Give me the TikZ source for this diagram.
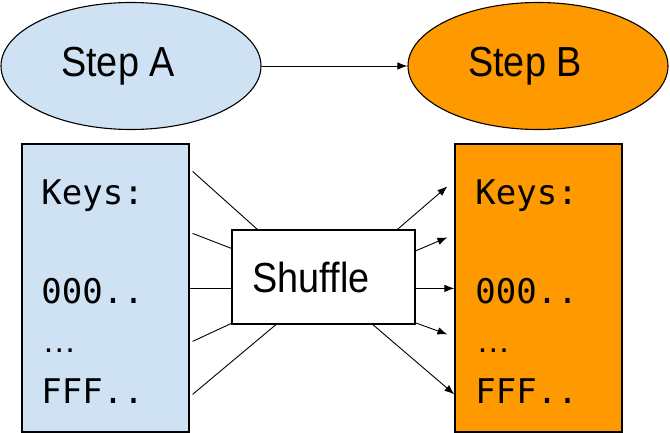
\documentclass[tikz,border=0pt]{standalone}
\usepackage{fontspec}
\setmainfont{Liberation Sans}
\newfontfamily\stepfont{Liberation Sans}[FakeStretch=0.9]
\newfontfamily\keysfont{DejaVu Sans Mono}
\usetikzlibrary{arrows.meta,shapes.geometric}
\definecolor{stepblue}{RGB}{207,226,243}
\definecolor{steporange}{RGB}{255,153,0}
\tikzset{
    stepnode/.style={draw,ellipse,line width=1.1pt,minimum width=260pt,minimum height=127pt,
      font=\stepfont\fontsize{42}{42}\selectfont},
    keybox/.style={draw,line width=1.2pt,minimum width=167pt,minimum height=288pt},
    keytext/.style={anchor=base west,inner sep=0pt,font=\keysfont\fontsize{34}{34}\selectfont},
    flow/.style={-{Latex[length=10pt,width=7.5pt]}}
}

\begin{document}
\begin{tikzpicture}[x=1pt,y=-1pt,line width=0.9pt]
    \useasboundingbox (0,0) rectangle (670,433);
    \node[stepnode,fill=stepblue] (stepA) at (131,66) {Step A\kern26pt};
    \node[stepnode,fill=steporange] (stepB) at (538,66) {Step B\kern26pt};
    \draw[flow] (stepA) -- (stepB);
    \node[keybox,fill=stepblue] (keysA) at (105.5,288) {};
    \node[keybox,fill=steporange] (keysB) at (538.5,288) {};
    \node[draw,line width=1.2pt,fill=white,minimum width=183pt,minimum height=94pt,
      font=\stepfont\fontsize{42}{42}\selectfont] (shuffle) at (323.5,277) {Shuffle\kern25pt};
    \foreach \side/\xx in {keysA/41,keysB/475} {
      \node[keytext] (\side-keys) at (\xx,205) {Keys:};
      \node[keytext] (\side-low) at (\xx,303) {000..};
      \node[keytext,font=\fontsize{34}{34}\selectfont] (\side-dots) at (\xx+1,352) {…};
      \node[keytext] (\side-high) at (\xx,403) {FFF..};
    }
    % keys of step A go into the shuffle
    \foreach \i/\xa/\ya/\xb/\yb in {1/3/28/26/0,2/3/90/0/19,3/0/145/0/59,4/3/198/0/94,5/3/251/46/94} {
      \path (keysA.north east) ++(\xa,\ya) coordinate (in\i);
      \path (shuffle.north west) ++(\xb,\yb) coordinate (sin\i);
      \draw (in\i) -- (sin\i);
    }
    % and come out sorted for step B
    \foreach \i/\xa/\ya/\xb/\yb in {1/166/0/-7/43,2/183/22/-7/94,3/183/59/0/145,4/183/93/-7/191,5/140/94/0/251} {
      \path (shuffle.north west) ++(\xa,\ya) coordinate (sout\i);
      \path (keysB.north west) ++(\xb,\yb) coordinate (out\i);
      \draw[flow] (sout\i) -- (out\i);
    }
\end{tikzpicture}
\end{document}
